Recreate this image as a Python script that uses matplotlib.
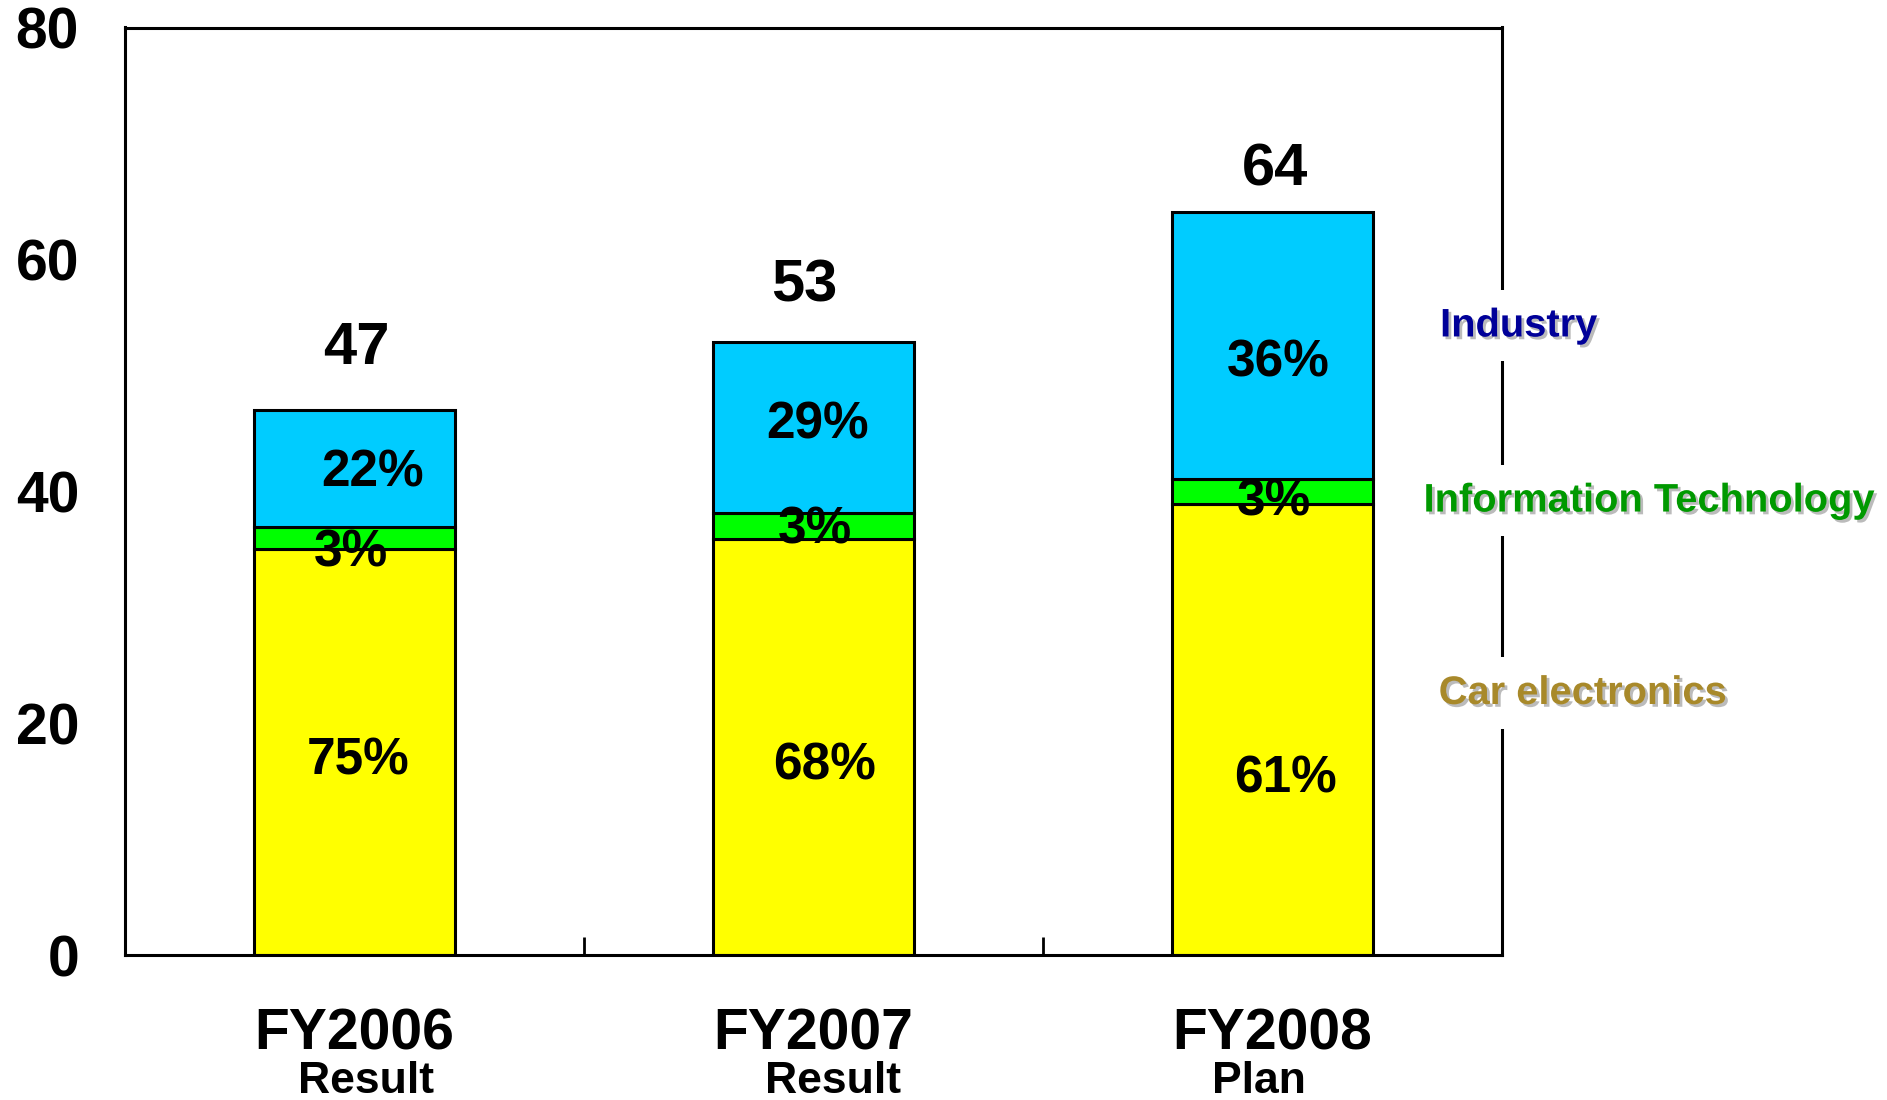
import matplotlib
matplotlib.use("Agg")
import matplotlib.pyplot as plt
import matplotlib.patheffects as pe
from matplotlib.transforms import blended_transform_factory
import numpy as np

# sales by segment, stacked bottom to top
years = ["FY2006", "FY2007", "FY2008"]
kinds = ["Result", "Result", "Plan"]
car = [35.0, 35.9, 38.9]
info_tech = [1.9, 2.2, 2.2]
industry = [10.1, 14.8, 23.0]
totals = [47, 53, 64]
car_pct = ["75%", "68%", "61%"]
it_pct = ["3%", "3%", "3%"]
ind_pct = ["22%", "29%", "36%"]
segments = ["Industry", "Information Technology", "Car electronics"]

# hand placed label spots (x offset from bar centre, y in data units)
car_lbl = [(0.008, 16.7), (0.024, 16.3), (0.029, 15.2)]
it_lbl = [(-0.008, 34.7), (0.003, 36.7), (0.003, 39.1)]
ind_lbl = [(0.04, 41.6), (0.008, 45.7), (0.013, 51.05)]
tot_lbl = [(0.005, 52.3), (-0.021, 57.7), (0.005, 67.7)]
kind_dx = [0.026, 0.042, -0.029]
seg_pos = [(0.955, 54.3), (0.943, 39.2), (0.954, 22.6)]
seg_colors = ["#000099", "#009900", "#A8892A"]

plt.rcParams["font.family"] = ["Liberation Sans", "DejaVu Sans"]

fig = plt.figure(figsize=(18.87, 11.0), dpi=100)
ax = fig.add_axes([0.0662, 0.1318, 0.7298, 0.8432])

x = np.arange(len(years))
w = 0.436
ec = dict(edgecolor="black", linewidth=2.2)
ax.bar(x, car, w, color="#FFFF00", **ec, zorder=2)
ax.bar(x, info_tech, w, bottom=car, color="#00FF00", **ec, zorder=2)
ax.bar(x, industry, w, bottom=np.add(car, info_tech), color="#00CCFF", **ec, zorder=2)

ax.set_xlim(-0.5, 2.5)
ax.set_ylim(0, 80)
ax.set_yticks([0, 20, 40, 60, 80])
ax.tick_params(axis="y", length=0, pad=33, labelsize=41)
for t in ax.get_yticklabels():
    t.set_fontweight("bold")
ax.set_xticks([0.5, 1.5])
ax.set_xticklabels([])
ax.tick_params(axis="x", direction="in", length=13, width=2)
for s in ax.spines.values():
    s.set_linewidth(2.2)

for i in range(len(years)):
    for lbls, txt in ((car_lbl, car_pct), (it_lbl, it_pct), (ind_lbl, ind_pct)):
        dx, yy = lbls[i]
        ax.text(i + dx, yy, txt[i], ha="center", va="center", fontsize=37,
                fontweight="bold", zorder=4)
    dx, yy = tot_lbl[i]
    ax.text(i + dx, yy, str(totals[i]), ha="center", va="center",
            fontsize=43, fontweight="bold", zorder=4)

tr = blended_transform_factory(ax.transData, ax.transAxes)
for i in range(len(years)):
    ax.text(i, -0.086, years[i], transform=tr, ha="center", va="center",
            fontsize=41, fontweight="bold", clip_on=False)
    ax.text(i + kind_dx[i], -0.136, kinds[i], transform=tr, ha="center",
            va="center", fontsize=32, fontweight="bold", clip_on=False)

# segment names sit over the right spine on white patches
shadow = [pe.withSimplePatchShadow(offset=(2, -2), shadow_rgbFace="#bbbbbb", alpha=1)]
trs = blended_transform_factory(ax.transAxes, ax.transData)
for name, (xx, yy), c in zip(segments, seg_pos, seg_colors):
    ax.text(xx, yy, name, transform=trs, ha="left", va="center", fontsize=28.7,
            fontweight="bold", color=c, clip_on=False, zorder=5,
            bbox=dict(facecolor="white", edgecolor="none", pad=12),
            path_effects=shadow)

fig.savefig("out.png", dpi=100)
